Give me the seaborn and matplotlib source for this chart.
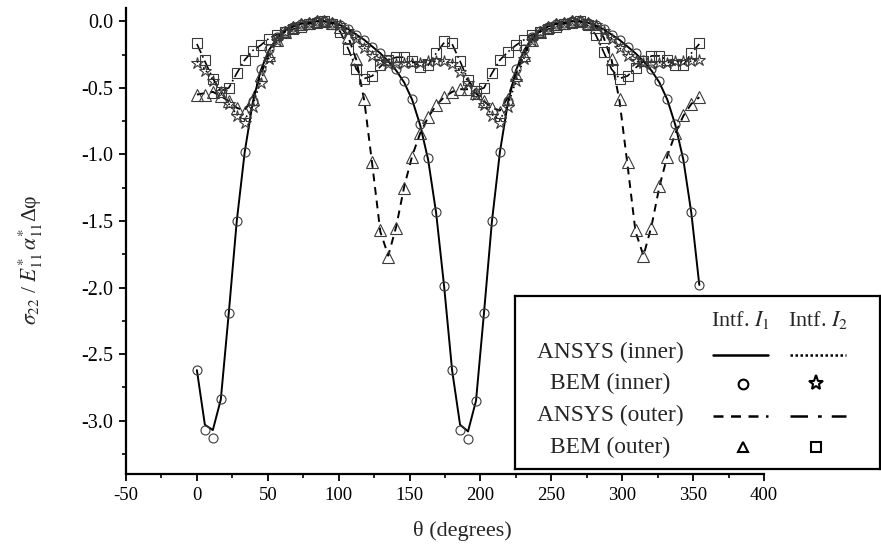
import matplotlib
matplotlib.use("Agg")
import matplotlib.pyplot as plt
import seaborn as sns
from matplotlib.ticker import MultipleLocator, FormatStrFormatter

# angles (degrees) of the sampled points
theta = [0, 5.625, 11.25, 16.875, 22.5, 28.125, 33.75, 39.375, 45, 50.625, 56.25, 61.875,
         67.5, 73.125, 78.75, 84.375, 90, 95.625, 101.25, 106.875, 112.5, 118.125, 123.75,
         129.375, 135, 140.625, 146.25, 151.875, 157.5, 163.125, 168.75, 174.375, 180,
         185.625, 191.25, 196.875, 202.5, 208.125, 213.75, 219.375, 225, 230.625, 236.25,
         241.875, 247.5, 253.125, 258.75, 264.375, 270, 275.625, 281.25, 286.875, 292.5,
         298.125, 303.75, 309.375, 315, 320.625, 326.25, 331.875, 337.5, 343.125, 348.75,
         354.375]

# ANSYS (inner), interface I1 - solid line
ansys_in_1 = [-2.62, -3.03, -3.07, -2.84, -2.19, -1.50, -0.98, -0.61, -0.37, -0.22, -0.13, -0.07,
              -0.04, -0.02, -0.01, 0.00, 0.00, -0.01, -0.03, -0.06, -0.10, -0.14, -0.19, -0.24,
              -0.30, -0.37, -0.46, -0.59, -0.78, -1.04, -1.44, -1.99, -2.62, -3.03, -3.08, -2.85,
              -2.19, -1.50, -0.98, -0.61, -0.37, -0.22, -0.13, -0.07, -0.04, -0.02, -0.01, 0.00,
              0.00, -0.01, -0.03, -0.06, -0.10, -0.14, -0.19, -0.24, -0.30, -0.37, -0.46, -0.59,
              -0.78, -1.04, -1.44, -1.98]
# BEM (inner), interface I1 - circles
bem_in_1 = [-2.62, -3.07, -3.13, -2.84, -2.19, -1.50, -0.98, -0.60, -0.36, -0.21, -0.12, -0.07,
            -0.04, -0.02, -0.01, 0.00, 0.00, -0.01, -0.03, -0.06, -0.10, -0.14, -0.19, -0.24,
            -0.29, -0.36, -0.45, -0.58, -0.77, -1.03, -1.43, -1.99, -2.62, -3.07, -3.14, -2.85,
            -2.19, -1.50, -0.98, -0.60, -0.36, -0.21, -0.12, -0.07, -0.04, -0.02, -0.01, 0.00,
            0.00, -0.01, -0.03, -0.06, -0.10, -0.14, -0.19, -0.24, -0.29, -0.36, -0.45, -0.58,
            -0.77, -1.03, -1.43, -1.98]
# ANSYS (inner), interface I2 - dotted line
ansys_in_2 = [-0.30, -0.36, -0.44, -0.53, -0.62, -0.70, -0.74, -0.63, -0.45, -0.28, -0.15, -0.08,
              -0.04, -0.02, -0.01, 0.00, 0.00, -0.01, -0.03, -0.07, -0.13, -0.20, -0.26, -0.30,
              -0.31, -0.31, -0.31, -0.31, -0.30, -0.30, -0.30, -0.30, -0.31, -0.37, -0.45, -0.54,
              -0.63, -0.70, -0.74, -0.63, -0.45, -0.28, -0.15, -0.08, -0.04, -0.02, -0.01, 0.00,
              0.00, -0.01, -0.03, -0.07, -0.13, -0.20, -0.26, -0.30, -0.31, -0.31, -0.31, -0.31,
              -0.30, -0.30, -0.30, -0.29]
# BEM (inner), interface I2 - stars
bem_in_2 = [-0.31, -0.37, -0.45, -0.53, -0.62, -0.71, -0.76, -0.64, -0.46, -0.28, -0.15, -0.08,
            -0.04, -0.02, -0.01, 0.00, 0.00, -0.01, -0.03, -0.07, -0.13, -0.20, -0.26, -0.30,
            -0.32, -0.32, -0.31, -0.31, -0.31, -0.30, -0.30, -0.30, -0.32, -0.38, -0.46, -0.55,
            -0.63, -0.71, -0.76, -0.64, -0.45, -0.28, -0.15, -0.08, -0.04, -0.02, -0.01, 0.00,
            0.00, -0.01, -0.03, -0.07, -0.13, -0.20, -0.26, -0.30, -0.31, -0.32, -0.31, -0.31,
            -0.30, -0.30, -0.30, -0.29]
# ANSYS (outer), interface I1 - dashed line
ansys_out_1 = [-0.55, -0.54, -0.53, -0.56, -0.60, -0.65, -0.67, -0.57, -0.40, -0.25, -0.14, -0.08,
               -0.04, -0.02, -0.01, 0.00, 0.00, -0.01, -0.04, -0.12, -0.29, -0.60, -1.08, -1.58,
               -1.76, -1.54, -1.24, -1.01, -0.84, -0.72, -0.63, -0.57, -0.53, -0.51, -0.51, -0.54,
               -0.60, -0.65, -0.67, -0.57, -0.40, -0.25, -0.14, -0.08, -0.04, -0.02, -0.01, 0.00,
               0.00, -0.01, -0.04, -0.12, -0.29, -0.60, -1.08, -1.58, -1.76, -1.54, -1.24, -1.01,
               -0.84, -0.71, -0.62, -0.57]
# BEM (outer), interface I1 - triangles
bem_out_1 = [-0.55, -0.55, -0.53, -0.56, -0.60, -0.65, -0.68, -0.58, -0.40, -0.25, -0.14, -0.08,
             -0.04, -0.02, -0.01, 0.00, 0.00, -0.01, -0.04, -0.12, -0.28, -0.58, -1.06, -1.57,
             -1.77, -1.55, -1.25, -1.02, -0.84, -0.72, -0.63, -0.57, -0.53, -0.51, -0.51, -0.54,
             -0.60, -0.65, -0.68, -0.58, -0.40, -0.25, -0.14, -0.08, -0.04, -0.02, -0.01, 0.00,
             0.00, -0.01, -0.04, -0.12, -0.28, -0.58, -1.06, -1.57, -1.76, -1.55, -1.24, -1.02,
             -0.84, -0.70, -0.62, -0.57]
# ANSYS (outer), interface I2 - dash-dot line
ansys_out_2 = [-0.17, -0.30, -0.43, -0.52, -0.50, -0.39, -0.29, -0.22, -0.18, -0.13, -0.10, -0.08,
               -0.06, -0.04, -0.02, -0.01, 0.00, -0.02, -0.08, -0.21, -0.36, -0.43, -0.41, -0.34,
               -0.29, -0.27, -0.27, -0.30, -0.34, -0.33, -0.24, -0.16, -0.17, -0.30, -0.44, -0.52,
               -0.50, -0.39, -0.29, -0.23, -0.18, -0.14, -0.10, -0.08, -0.06, -0.04, -0.02, -0.01,
               0.00, -0.03, -0.10, -0.23, -0.36, -0.43, -0.41, -0.35, -0.30, -0.26, -0.26, -0.29,
               -0.33, -0.33, -0.24, -0.17]
# BEM (outer), interface I2 - squares
bem_out_2 = [-0.16, -0.29, -0.43, -0.53, -0.50, -0.39, -0.29, -0.22, -0.18, -0.13, -0.10, -0.08,
             -0.06, -0.04, -0.02, -0.01, 0.00, -0.02, -0.08, -0.21, -0.36, -0.43, -0.41, -0.33,
             -0.29, -0.27, -0.27, -0.30, -0.34, -0.33, -0.24, -0.15, -0.16, -0.30, -0.44, -0.52,
             -0.50, -0.39, -0.29, -0.23, -0.18, -0.14, -0.10, -0.08, -0.06, -0.04, -0.02, -0.01,
             0.00, -0.03, -0.10, -0.23, -0.36, -0.43, -0.41, -0.35, -0.30, -0.26, -0.26, -0.29,
             -0.33, -0.33, -0.24, -0.16]

row_labels = ["ANSYS (inner)", "BEM (inner)", "ANSYS (outer)", "BEM (outer)"]
col_labels = [r"Intf. $I_{1}$", r"Intf. $I_{2}$"]

sns.set_theme(style="ticks")
plt.rcParams["font.family"] = ["Liberation Serif", "DejaVu Serif"]
plt.rcParams["mathtext.fontset"] = "stix"
plt.rcParams["axes.unicode_minus"] = False

W, H = 881, 546
fig = plt.figure(figsize=(W / 100, H / 100), dpi=100)
ax = fig.add_axes([126 / W, 1 - 474 / H, (764 - 126) / W, (474 - 8) / H])

# ANSYS curves
sns.lineplot(x=theta, y=ansys_in_1, ax=ax, color="black", linewidth=1.4, linestyle="-")
sns.lineplot(x=theta, y=ansys_in_2, ax=ax, color="black", linewidth=1.2, linestyle=":")
sns.lineplot(x=theta, y=ansys_out_1, ax=ax, color="black", linewidth=1.4, linestyle=(0, (4, 3)))
sns.lineplot(x=theta, y=ansys_out_2, ax=ax, color="black", linewidth=1.2, linestyle=(0, (6, 2, 1, 2)))

# BEM points (open markers)
mk = dict(linestyle="none", markerfacecolor="none", markeredgecolor="#3a3a3a", markeredgewidth=0.8)
sns.lineplot(x=theta, y=bem_in_1, ax=ax, marker="o", markersize=6.5, **mk)
sns.lineplot(x=theta, y=bem_in_2, ax=ax, marker="*", markersize=9, **mk)
sns.lineplot(x=theta, y=bem_out_1, ax=ax, marker="^", markersize=8, **mk)
sns.lineplot(x=theta, y=bem_out_2, ax=ax, marker="s", markersize=6.5, **mk)

ax.set_xlim(-50, 400)
ax.set_ylim(-3.4, 0.1)
ax.xaxis.set_major_locator(MultipleLocator(50))
ax.xaxis.set_minor_locator(MultipleLocator(25))
ax.yaxis.set_major_locator(MultipleLocator(0.5))
ax.yaxis.set_minor_locator(MultipleLocator(0.25))
ax.yaxis.set_major_formatter(FormatStrFormatter("%.1f"))
ax.tick_params(which="major", direction="out", length=5, width=1.3, labelsize=13.5, colors="black", pad=4)
ax.tick_params(axis="y", which="major", labelsize=14.5)
ax.tick_params(which="minor", direction="out", length=3, width=1.2, colors="black")
for s in ["top", "right"]:
    ax.spines[s].set_visible(False)
for s in ["left", "bottom"]:
    ax.spines[s].set_linewidth(1.6)
    ax.spines[s].set_color("black")

ax.set_xlabel("θ (degrees)", fontsize=16)
ax.xaxis.set_label_coords(0.527, -0.1)
ax.set_ylabel(r"$\sigma_{22}$ / $E^{*}_{11}\,\alpha^{*}_{11}$Δφ", fontsize=15.5)
ax.yaxis.set_label_coords(-0.127, 0.46)

# table-style legend box
lax = fig.add_axes([515 / W, 1 - 469 / H, (880 - 515) / W, (469 - 296) / H])
lax.set_xlim(515, 880)
lax.set_ylim(469, 296)
lax.set_xticks([])
lax.set_yticks([])
lax.set_facecolor("white")
for s in lax.spines.values():
    s.set_linewidth(1.6)
    s.set_color("black")

row_y = [352, 383, 415, 447]
col_x = [740, 818]
for lab, x in zip(col_labels, col_x):
    lax.text(x, 320, lab, ha="center", va="center", fontsize=16)
for lab, y in zip(row_labels, row_y):
    lax.text(610, y, lab, ha="center", va="center", fontsize=16.8)

lax.plot([713, 768], [355, 355], color="black", lw=1.8, linestyle="-")
lax.plot([790, 846], [355, 355], color="black", lw=1.8, linestyle=(0, (1, 1)))
lax.plot([713, 768], [416, 416], color="black", lw=1.8, linestyle=(0, (4, 3)))
lax.plot([790, 846], [416, 416], color="black", lw=1.8, linestyle=(0, (7, 4, 1.5, 4)))
lk = dict(linestyle="none", markerfacecolor="none", markeredgecolor="black", markeredgewidth=1.5)
lax.plot([743], [384], marker="o", markersize=7, **lk)
lax.plot([816], [383], marker="*", markersize=11, **lk)
lax.plot([743], [447], marker="^", markersize=7.5, **lk)
lax.plot([816], [447], marker="s", markersize=6.5, **lk)

fig.savefig("out.png", dpi=100)
